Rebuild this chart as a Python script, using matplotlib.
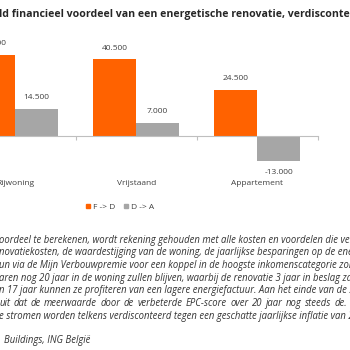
import numpy as np
import matplotlib
matplotlib.use('Agg')
from matplotlib import pyplot as plt
from matplotlib.lines import Line2D
from matplotlib.ticker import FixedLocator

plt.rcParams['font.family'] = ['Open Sans', 'DejaVu Sans']

categories = ['Rijwoning', 'Vrijstaand', 'Appartement']
series_names = ['F -> D', 'D -> A']
f_to_d = [43000, 40500, 24500]
d_to_a = [14500, 7000, -13000]

title = 'ld financieel voordeel van een energetische renovatie, verdisconteerd (EUR)'
notes = [
    'oordeel te berekenen, wordt rekening gehouden met alle kosten en voordelen die verbonden zijn',
    'novatiekosten, de waardestijging van de woning, de jaarlijkse besparingen op de energiefactuur',
    'un via de Mijn Verbouwpremie voor een koppel in de hoogste inkomenscategorie zonder',
    'aren nog 20 jaar in de woning zullen blijven, waarbij de renovatie 3 jaar in beslag zal nemen',
    'n 17 jaar kunnen ze profiteren van een lagere energiefactuur. Aan het einde van de 20 jaar',
    'uit dat de meerwaarde door de verbeterde EPC-score over 20 jaar nog steeds de.',
    'e stromen worden telkens verdisconteerd tegen een geschatte jaarlijkse inflatie van 2%',
]
justified = [False, False, False, False, False, True, False]
source = 'Buildings, ING België'

orange = '#FF6200'
grey = '#A6A6A6'
axis_grey = '#BFBFBF'
text_grey = '#404040'

W = H = 350.0
fig = plt.figure(figsize=(3.5, 3.5), dpi=100)


def fx(px):
    return px / W


def fy(py):
    return 1 - py / H


# plot area deliberately reaches past the left edge (cropped chart)
ax = fig.add_axes([fx(-45.3), fy(173.9), 363 / W, 132.6 / H])
ax.set_xlim(-0.5, len(categories) - 0.5)
ax.set_ylim(-20000, 50000)

x = np.arange(len(categories))
w = 0.355
b1 = ax.bar(x - w / 2, f_to_d, w, color=orange, label=series_names[0])
b2 = ax.bar(x + w / 2, d_to_a, w, color=grey, label=series_names[1])

for bars, vals in ((b1, f_to_d), (b2, d_to_a)):
    for rect, v in zip(bars, vals):
        off = 8 if v >= 0 else -8.5
        lab = f'{v:,}'.replace(',', '.')
        ax.annotate(lab, (rect.get_x() + rect.get_width() / 2, v),
                    xytext=(0, off), textcoords='offset points',
                    ha='center', va='center', fontsize=6.0, color=text_grey)

for s in ('left', 'right', 'top'):
    ax.spines[s].set_visible(False)
ax.spines['bottom'].set_position(('data', 0))
ax.spines['bottom'].set_color(axis_grey)
ax.spines['bottom'].set_linewidth(0.8)
ax.set_yticks([])
ax.set_xticks(x)
ax.set_xticklabels(categories, fontsize=6.0, color=text_grey)
ax.tick_params(axis='x', which='major', length=0, pad=32)
ax.xaxis.set_minor_locator(FixedLocator(np.arange(len(categories) + 1) - 0.5))
ax.tick_params(axis='x', which='minor', length=3, width=0.8, color=axis_grey)

handles = [Line2D([], [], marker='s', linestyle='none', color=c, markersize=3.4)
           for c in (orange, grey)]
fig.legend(handles, series_names, loc='center', ncol=2, frameon=False,
           bbox_to_anchor=(fx(120), fy(207)), fontsize=6.0, handlelength=0.6,
           handletextpad=0.3, columnspacing=1.0, labelcolor=text_grey)

fig.text(fx(-1), fy(14), title, fontsize=7.6, fontweight='bold',
         color='#262626', va='center', ha='left')

note_style = dict(fontsize=6.85, style='italic', color='#333333',
                  va='center', ha='left')
renderer = fig.canvas.get_renderer()
for i, (line, just) in enumerate(zip(notes, justified)):
    y = fy(240 + i * 12.75)
    if not just:
        fig.text(fx(-1), y, line, **note_style)
        continue
    # spread the words of a justified line up to the right end
    words = line.split()
    widths = []
    for wd in words:
        t = fig.text(0, 0, wd, **note_style)
        widths.append(t.get_window_extent(renderer).width)
        t.remove()
    gap = (347 + 1 - sum(widths)) / (len(words) - 1)
    pos = -1
    for wd, wpx in zip(words, widths):
        fig.text(fx(pos), y, wd, **note_style)
        pos += wpx + gap

fig.text(fx(4), fy(341), source, **note_style)

fig.savefig('out.png', dpi=100)
